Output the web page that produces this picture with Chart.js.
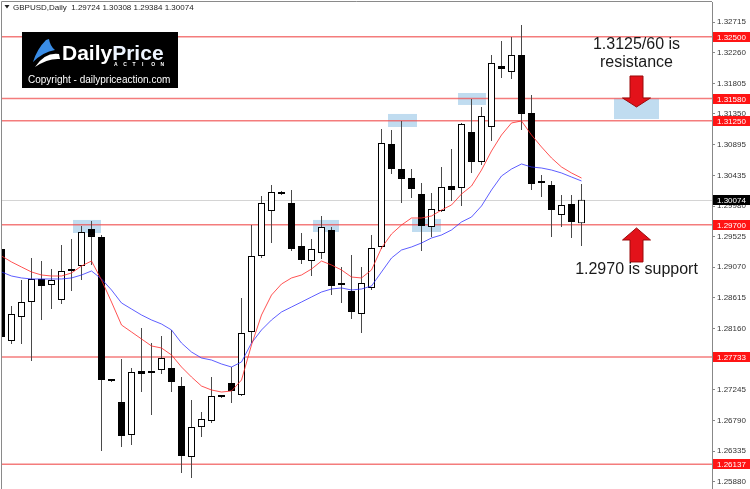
<!DOCTYPE html>
<html>
<head>
<meta charset="utf-8">
<script src="https://cdn.jsdelivr.net/npm/chart.js@4.4.1/dist/chart.umd.min.js"></script>
<style>
  html, body { margin: 0; padding: 0; background: #fff; }
  canvas { display: block; }
</style>
</head>
<body>
<canvas id="myChart" width="750" height="489"></canvas>
<script>
// GBPUSD daily candles, oldest first
const opens = [1.29341, 1.27972, 1.28329, 1.28552, 1.28895, 1.28805, 1.28582, 1.29014, 1.29088, 1.29639,
  1.29520, 1.27392, 1.27064, 1.26573, 1.27526, 1.27511, 1.27541, 1.27570, 1.27302, 1.26246,
  1.26692, 1.26782, 1.27154, 1.27347, 1.27168, 1.28106, 1.29237, 1.29906, 1.30189, 1.30025,
  1.29386, 1.29162, 1.29281, 1.29624, 1.28835, 1.28716, 1.28374, 1.28761, 1.29371, 1.30903,
  1.30531, 1.30397, 1.30159, 1.29668, 1.29906, 1.30278, 1.30249, 1.31082, 1.30636, 1.31156,
  1.32064, 1.31975, 1.32228, 1.31365, 1.30353, 1.30293, 1.29847, 1.30011, 1.29724];
const highs = [1.29445, 1.28493, 1.28880, 1.29207, 1.29162, 1.29043, 1.29400, 1.29490, 1.29683, 1.29758,
  1.29549, 1.27407, 1.27704, 1.27570, 1.28165, 1.27942, 1.28046, 1.28136, 1.27436, 1.27094,
  1.26916, 1.27436, 1.27168, 1.27585, 1.28612, 1.29698, 1.30130, 1.30293, 1.30204, 1.30219,
  1.29579, 1.29490, 1.29832, 1.29668, 1.29073, 1.29252, 1.29073, 1.29549, 1.31127, 1.31112,
  1.31246, 1.30531, 1.30323, 1.30174, 1.30561, 1.30829, 1.31216, 1.31573, 1.31454, 1.32228,
  1.32436, 1.32496, 1.32674, 1.31632, 1.30442, 1.30353, 1.30144, 1.30144, 1.30308];
const lows = [1.27734, 1.27927, 1.27927, 1.27674, 1.28285, 1.28448, 1.28523, 1.28716, 1.28880, 1.29103,
  1.26335, 1.27362, 1.26395, 1.26425, 1.27213, 1.26871, 1.27481, 1.27213, 1.26008, 1.25933,
  1.26544, 1.26752, 1.27124, 1.27049, 1.27154, 1.27942, 1.29207, 1.29430, 1.30144, 1.29311,
  1.29118, 1.28939, 1.29192, 1.28656, 1.28538, 1.28299, 1.28091, 1.28731, 1.29341, 1.30457,
  1.30025, 1.30100, 1.29311, 1.29520, 1.29892, 1.30055, 1.29981, 1.30472, 1.30591, 1.30948,
  1.31885, 1.31871, 1.31112, 1.30219, 1.30115, 1.29520, 1.29668, 1.29505, 1.29384];
const closes = [1.28032, 1.28374, 1.28552, 1.28895, 1.28790, 1.28880, 1.29014, 1.29029, 1.29594, 1.29520,
  1.27392, 1.27377, 1.26558, 1.27511, 1.27481, 1.27496, 1.27719, 1.27362, 1.26261, 1.26692,
  1.26811, 1.27154, 1.27139, 1.27228, 1.28091, 1.29237, 1.30025, 1.30189, 1.30159, 1.29341,
  1.29177, 1.29341, 1.29668, 1.28790, 1.28805, 1.28404, 1.28835, 1.29356, 1.30918, 1.30531,
  1.30383, 1.30234, 1.29683, 1.29936, 1.30264, 1.30219, 1.31201, 1.30636, 1.31320, 1.32109,
  1.32019, 1.32228, 1.31350, 1.30308, 1.30323, 1.29921, 1.29996, 1.29743, 1.30074];

// moving averages (red = fast, blue = slow)
const emaFast = [1.29237, 1.29148, 1.29073, 1.28999, 1.28954, 1.28939, 1.28939, 1.28984, 1.29088, 1.29162,
  1.28880, 1.28552, 1.28210, 1.28106, 1.28002, 1.27898, 1.27868, 1.27764, 1.27585, 1.27436,
  1.27302, 1.27243, 1.27213, 1.27228, 1.27392, 1.27913, 1.28359, 1.28656, 1.28820, 1.28910,
  1.28954, 1.29043, 1.29162, 1.29103, 1.29029, 1.28924, 1.28910, 1.29029, 1.29356, 1.29564,
  1.29698, 1.29802, 1.29802, 1.29832, 1.29921, 1.29996, 1.30159, 1.30278, 1.30516, 1.30799,
  1.31037, 1.31216, 1.31246, 1.31037, 1.30859, 1.30695, 1.30561, 1.30472, 1.30397];
const emaSlow = [1.28999, 1.28939, 1.28910, 1.28895, 1.28895, 1.28895, 1.28895, 1.28910, 1.28954, 1.29014,
  1.28895, 1.28731, 1.28538, 1.28448, 1.28359, 1.28285, 1.28225, 1.28136, 1.27942, 1.27808,
  1.27719, 1.27689, 1.27630, 1.27585, 1.27660, 1.27942, 1.28136, 1.28285, 1.28404, 1.28478,
  1.28552, 1.28627, 1.28701, 1.28746, 1.28761, 1.28731, 1.28746, 1.28790, 1.28999, 1.29207,
  1.29326, 1.29371, 1.29430, 1.29505, 1.29549, 1.29624, 1.29743, 1.29817, 1.29981, 1.30219,
  1.30427, 1.30531, 1.30606, 1.30561, 1.30546, 1.30516, 1.30472, 1.30412, 1.30353];

const tickValues = [1.32715, 1.32260, 1.31805, 1.31350, 1.30895, 1.30435, 1.29980, 1.29525,
  1.29070, 1.28615, 1.28160, 1.27245, 1.26790, 1.26335, 1.25880];
const redLevels = [1.32500, 1.31580, 1.31250, 1.29700, 1.27733, 1.26137];
const lastPrice = 1.30074;

// highlighted zones: candle index range, price range
const zones = [
  { from: 7.15, to: 9.95, top: 1.29773, bottom: 1.29579 },
  { from: 31.15, to: 33.75, top: 1.29773, bottom: 1.29594 },
  { from: 38.65, to: 41.55, top: 1.31350, bottom: 1.31156 },
  { from: 41.05, to: 43.95, top: 1.29788, bottom: 1.29594 },
  { from: 45.65, to: 48.45, top: 1.31662, bottom: 1.31484 },
  { from: 61.25, to: 65.75, top: 1.31580, bottom: 1.31275 }
];

const idx = opens.map((_, i) => i);

// zones, level lines and current price line, under the candles
const backdrop = {
  id: 'backdrop',
  beforeDatasetsDraw(chart) {
    const { ctx, chartArea: a, scales: { x, y } } = chart;
    ctx.save();
    ctx.fillStyle = 'rgba(150,196,230,0.6)';
    zones.forEach(z => {
      const x1 = x.getPixelForValue(z.from), x2 = x.getPixelForValue(z.to);
      const y1 = y.getPixelForValue(z.top), y2 = y.getPixelForValue(z.bottom);
      ctx.fillRect(x1, y1, x2 - x1, y2 - y1);
    });
    ctx.lineWidth = 1;
    ctx.strokeStyle = '#d4d4d4';
    let py = Math.round(y.getPixelForValue(lastPrice)) + 0.5;
    ctx.beginPath(); ctx.moveTo(a.left, py); ctx.lineTo(a.right, py); ctx.stroke();
    ctx.strokeStyle = 'rgba(240,80,80,0.75)';
    ctx.lineWidth = 1.5;
    redLevels.forEach(v => {
      const ly = y.getPixelForValue(v);
      ctx.beginPath(); ctx.moveTo(a.left, ly); ctx.lineTo(a.right, ly); ctx.stroke();
    });
    ctx.restore();
  }
};

function arrow(ctx, cx, yEnd, yBase, yTip) {
  ctx.beginPath();
  ctx.moveTo(cx - 6.5, yEnd);
  ctx.lineTo(cx + 6.5, yEnd);
  ctx.lineTo(cx + 6.5, yBase);
  ctx.lineTo(cx + 14, yBase);
  ctx.lineTo(cx, yTip);
  ctx.lineTo(cx - 14, yBase);
  ctx.lineTo(cx - 6.5, yBase);
  ctx.closePath();
  ctx.fillStyle = '#e3121a';
  ctx.fill();
  ctx.strokeStyle = '#9a0a0a';
  ctx.lineWidth = 1;
  ctx.stroke();
}

function drawLogo(ctx) {
  ctx.fillStyle = '#000';
  ctx.fillRect(22, 32, 156, 56);
  // icon
  ctx.fillStyle = '#3a8de6';
  ctx.beginPath();
  ctx.moveTo(33, 62);
  ctx.quadraticCurveTo(37, 49, 46, 40);
  ctx.lineTo(49, 39);
  ctx.quadraticCurveTo(50, 46, 55, 50);
  ctx.quadraticCurveTo(43, 52, 33, 62);
  ctx.fill();
  ctx.fillStyle = '#fff';
  ctx.beginPath();
  ctx.moveTo(35, 67);
  ctx.quadraticCurveTo(45, 52, 59, 54);
  ctx.lineTo(60, 59);
  ctx.quadraticCurveTo(48, 58, 35, 67);
  ctx.fill();
  // name
  ctx.textAlign = 'left';
  ctx.textBaseline = 'alphabetic';
  ctx.font = 'bold 21px "Liberation Sans"';
  ctx.fillStyle = '#fff';
  ctx.fillText('Daily', 62, 60);
  const w = ctx.measureText('Daily').width;
  ctx.fillStyle = '#eef5ff';
  ctx.fillText('Price', 62 + w, 60);
  ctx.font = 'bold 5px "Liberation Sans"';
  ctx.fillStyle = '#fff';
  'ACTION'.split('').forEach((c, k) => ctx.fillText(c, 114 + k * 9.3, 66));
  ctx.font = '10px "Liberation Sans"';
  ctx.fillText('Copyright - dailypriceaction.com', 28, 83);
}

const overlay = {
  id: 'overlay',
  afterDraw(chart) {
    const { ctx, chartArea: a, scales: { x, y } } = chart;
    ctx.save();
    // frame
    ctx.strokeStyle = '#8a8a8a';
    ctx.lineWidth = 1;
    ctx.beginPath(); ctx.moveTo(1.5, 489); ctx.lineTo(1.5, 1.5); ctx.lineTo(a.right, 1.5); ctx.stroke();

    // price tags on the axis
    ctx.font = '8px "Liberation Sans"';
    ctx.textBaseline = 'middle';
    ctx.textAlign = 'left';
    const tag = (v, bg) => {
      const ty = Math.round(y.getPixelForValue(v));
      ctx.fillStyle = bg;
      ctx.fillRect(a.right + 1, ty - 5, 750 - a.right - 1, 10);
      ctx.fillStyle = '#fff';
      ctx.fillText(v.toFixed(5), a.right + 5, ty + 0.5);
    };
    redLevels.forEach(v => tag(v, '#ff1414'));
    tag(lastPrice, '#000');

    // header
    ctx.fillStyle = '#222';
    ctx.beginPath(); ctx.moveTo(4.5, 5); ctx.lineTo(9.5, 5); ctx.lineTo(7, 8.5); ctx.closePath(); ctx.fill();
    ctx.fillText('GBPUSD,Daily  ' + [opens[58], highs[58], lows[58], closes[58]].map(v => v.toFixed(5)).join(' '), 13, 7.5);

    // notes and arrows
    const cx = x.getPixelForValue(63.5);
    arrow(ctx, cx, y.getPixelForValue(1.31915), y.getPixelForValue(1.31588), y.getPixelForValue(1.31454));
    arrow(ctx, cx, y.getPixelForValue(1.29148), y.getPixelForValue(1.29475), y.getPixelForValue(1.29654));
    ctx.font = '16px "Liberation Sans"';
    ctx.textAlign = 'center';
    ctx.fillStyle = '#1a1a1a';
    ctx.fillText('1.3125/60 is', cx, y.getPixelForValue(1.32376));
    ctx.fillText('resistance', cx, y.getPixelForValue(1.32109));
    ctx.fillText('1.2970 is support', cx, y.getPixelForValue(1.29029));

    drawLogo(ctx);
    ctx.restore();
  }
};

new Chart(document.getElementById('myChart'), {
  type: 'bar',
  data: {
    datasets: [
      {
        label: 'wicks',
        data: idx.map(i => ({ x: i, y: [lows[i], highs[i]] })),
        backgroundColor: '#4a4a4a',
        barThickness: 1,
        grouped: false,
        inflateAmount: 0,
        borderSkipped: false,
        order: 3
      },
      {
        label: 'bodies',
        data: idx.map(i => ({ x: i, y: [opens[i], closes[i]] })),
        backgroundColor: idx.map(i => closes[i] >= opens[i] ? '#fff' : '#000'),
        borderColor: '#000',
        borderWidth: 1,
        borderSkipped: false,
        barThickness: 7,
        minBarLength: 2,
        grouped: false,
        inflateAmount: 0,
        order: 2
      },
      {
        type: 'line',
        label: 'fast',
        data: idx.map(i => ({ x: i, y: emaFast[i] })),
        borderColor: 'rgba(255,40,40,0.8)',
        borderWidth: 1,
        pointRadius: 0,
        tension: 0,
        order: 1
      },
      {
        type: 'line',
        label: 'slow',
        data: idx.map(i => ({ x: i, y: emaSlow[i] })),
        borderColor: 'rgba(40,40,255,0.75)',
        borderWidth: 1,
        pointRadius: 0,
        tension: 0,
        order: 1
      }
    ]
  },
  options: {
    responsive: false,
    animation: false,
    devicePixelRatio: 1,
    events: [],
    layout: { padding: { left: 2, top: 2, right: 0, bottom: 0 } },
    plugins: { legend: { display: false }, tooltip: { enabled: false } },
    scales: {
      x: { type: 'linear', display: false, min: 0.05, max: 71.05, offset: false },
      y: {
        position: 'right',
        min: 1.25770,
        max: 1.33016,
        afterBuildTicks: s => { s.ticks = tickValues.map(v => ({ value: v })); },
        afterFit: s => { s.width = 38; s.paddingTop = 0; s.paddingBottom = 0; },
        grid: { drawOnChartArea: false, drawTicks: true, tickLength: 3, color: '#888' },
        border: { display: true, color: '#888' },
        ticks: {
          padding: 2,
          color: '#333',
          font: { family: 'Liberation Sans', size: 8 },
          callback: v => v.toFixed(5)
        }
      }
    }
  },
  plugins: [backdrop, overlay]
});
</script>
</body>
</html>
